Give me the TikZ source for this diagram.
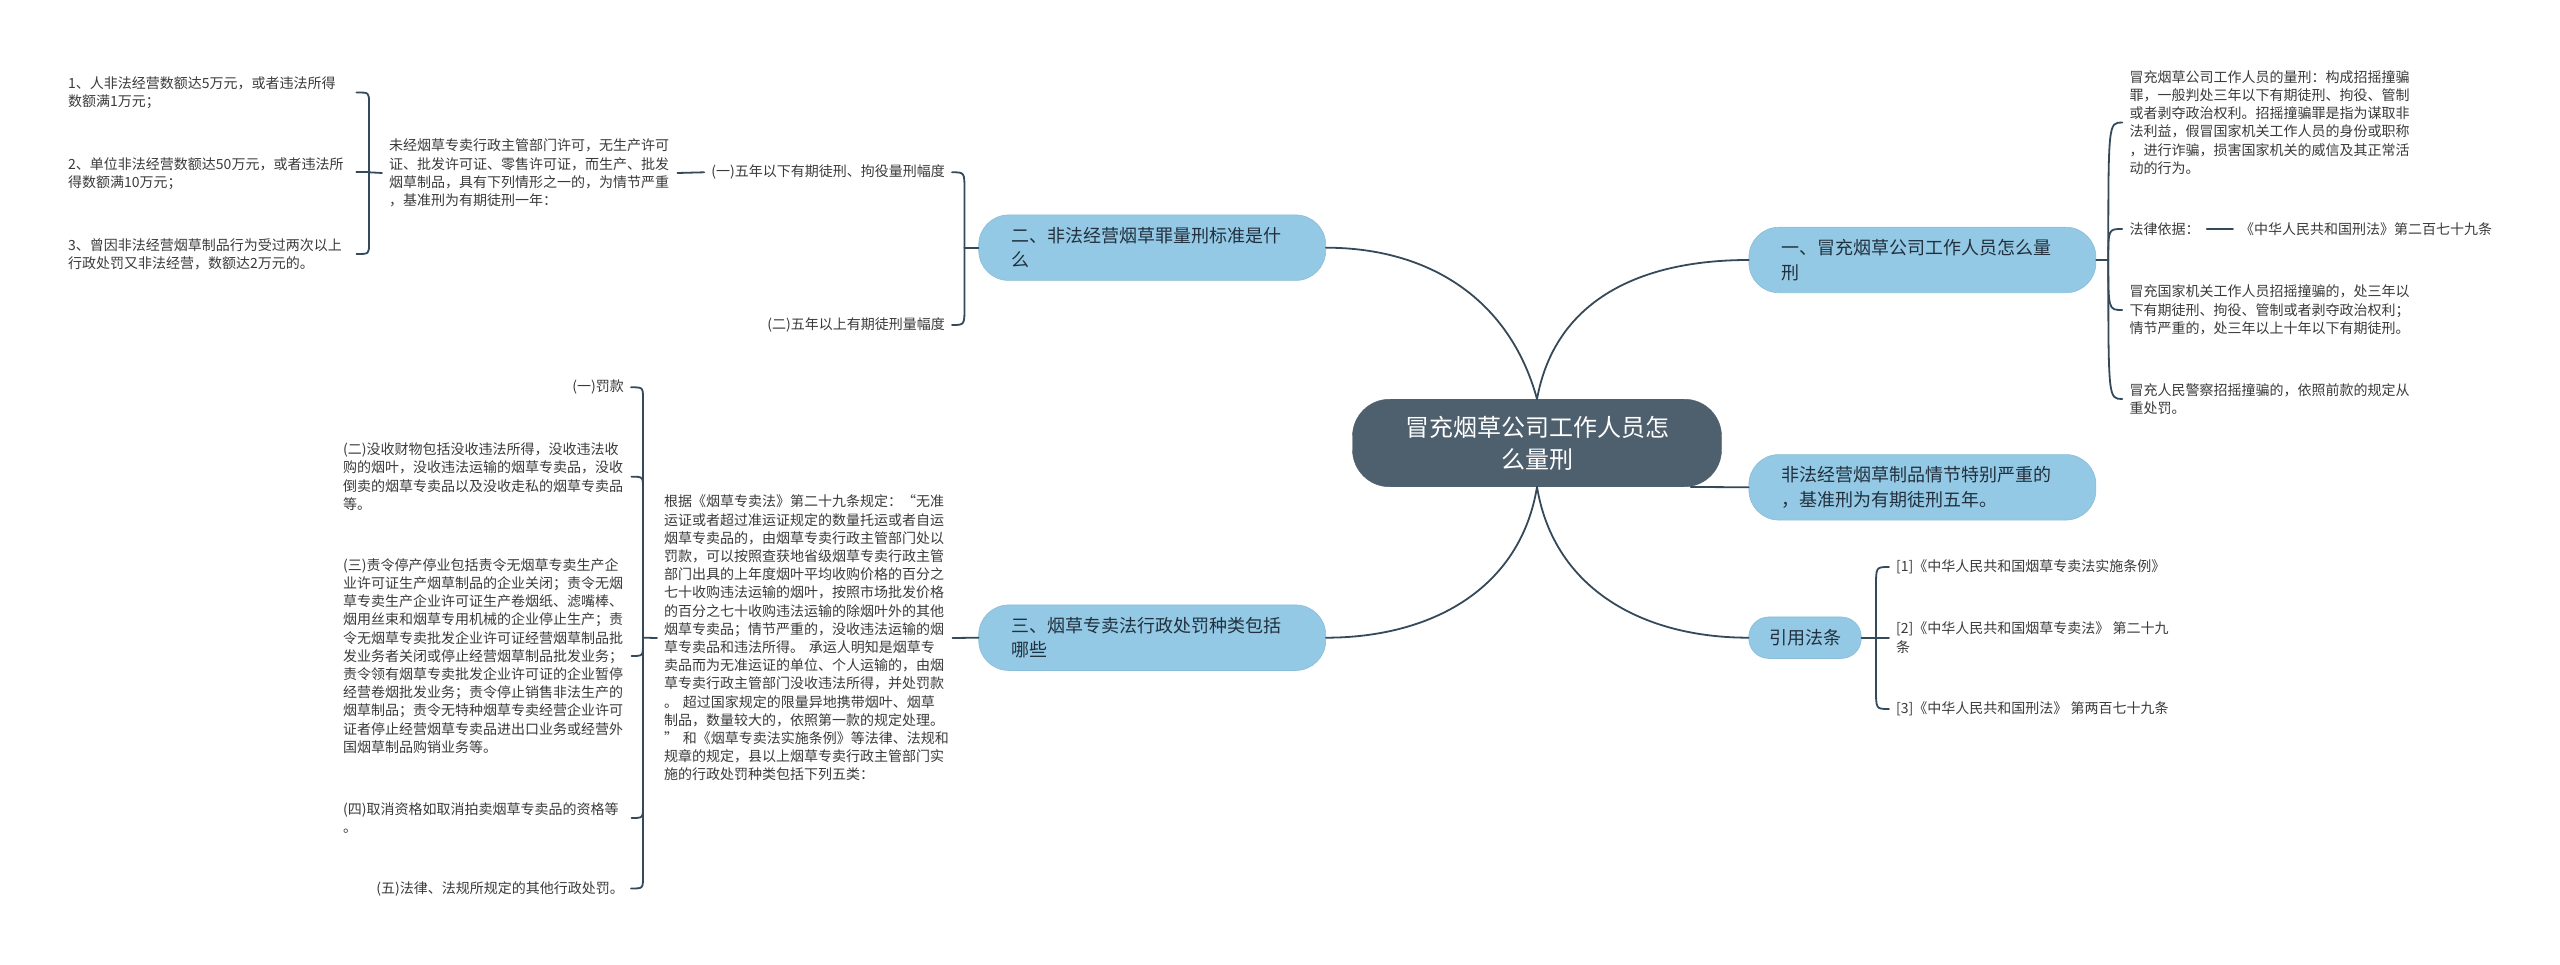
\documentclass[tikz,border=0pt]{standalone}
\usepackage{fontspec}
\usetikzlibrary{calc}
\setmainfont{Noto Sans CJK SC}
\definecolor{linec}{HTML}{34495A}
\definecolor{hubc}{HTML}{4E5F6E}
\definecolor{topicc}{HTML}{93C9E4}
\definecolor{topicb}{HTML}{8ABDD8}
\definecolor{inkc}{HTML}{3A3A3A}
\definecolor{topict}{HTML}{22303E}
\tikzset{
  txt/.style={font=\fontsize{14}{18.2}\selectfont,text=inkc,inner xsep=7pt,inner ysep=0pt,align=left},
  blk/.style={txt,text width=281pt},
  hub/.style={fill=hubc,draw=hubc,rounded corners=37pt,minimum width=369pt,minimum height=87.5pt,
    inner sep=0pt,align=center,text=white,font=\fontsize{24}{32}\selectfont},
  topic/.style={fill=topicc,draw=topicb,line width=.6pt,rounded corners=30pt,minimum height=65.5pt,inner ysep=0pt,
    inner xsep=33pt,text width=281pt,align=left,text=topict,font=\fontsize{18}{24.5}\selectfont},
  topics/.style={fill=topicc,draw=topicb,line width=.6pt,rounded corners=20pt,minimum width=112.5pt,minimum height=41.5pt,inner sep=0pt,
    align=center,text=topict,font=\fontsize{18}{24.5}\selectfont},
  conn/.style={draw=linec,line width=1.8pt,line cap=round}
}
% junction, child node, child anchor: a long gradual bend
\newcommand{\branch}[3]{\draw[conn] (#1) .. controls (#1 |- #2.#3) and (#1 |- #2.#3) .. (#2.#3);}
% junction, child node, child anchor, bend length: straight run and a short hook
\newcommand{\hook}[4]{\draw[conn] (#1) -- ($(#1 |- #2.#3)!#4!(#1)$) .. controls (#1 |- #2.#3) .. (#2.#3);}
\begin{document}
\begin{tikzpicture}[x=1pt,y=-1pt]
\useasboundingbox (0,0) rectangle (2560,965);
% main nodes
\node[hub] (hub) at (1537,443) {冒充烟草公司工作人员怎\\么量刑};
\node[topic,anchor=west] (t1) at (1748.6,260) {一、冒充烟草公司工作人员怎么量\\刑};
\node[topic,anchor=west] (t4) at (1748.6,487.3) {非法经营烟草制品情节特别严重的\\，基准刑为有期徒刑五年。};
\node[topics] (t5) at (1805,637.7) {引用法条};
\node[topic,anchor=west] (t2) at (978.4,247.7) {二、非法经营烟草罪量刑标准是什\\么};
\node[topic,anchor=west] (t3) at (978.4,637.7) {三、烟草专卖法行政处罚种类包括\\哪些};
% block of t2
\node[txt,anchor=east] (b1) at (952,172.3) {(一)五年以下有期徒刑、拘役量刑幅度};
\node[txt,anchor=east] (b2) at (952,325) {(二)五年以上有期徒刑量幅度};
\node[blk,anchor=west] (b1a) at (382,173) {未经烟草专卖行政主管部门许可，无生产许可\\证、批发许可证、零售许可证，而生产、批发\\烟草制品，具有下列情形之一的，为情节严重\\，基准刑为有期徒刑一年：};
\node[blk,anchor=west] (a1) at (61,92.5) {1、人非法经营数额达5万元，或者违法所得\\数额满1万元；};
\node[blk,anchor=west] (a2) at (61,173.5) {2、单位非法经营数额达50万元，或者违法所\\得数额满10万元；};
\node[blk,anchor=west] (a3) at (61,254) {3、曾因非法经营烟草制品行为受过两次以上\\行政处罚又非法经营，数额达2万元的。};
% block of t3
\node[blk,anchor=west] (c) at (657,638) {根据《烟草专卖法》第二十九条规定：“无准\\运证或者超过准运证规定的数量托运或者自运\\烟草专卖品的，由烟草专卖行政主管部门处以\\罚款，可以按照查获地省级烟草专卖行政主管\\部门出具的上年度烟叶平均收购价格的百分之\\七十收购违法运输的烟叶，按照市场批发价格\\的百分之七十收购违法运输的除烟叶外的其他\\烟草专卖品；情节严重的，没收违法运输的烟\\草专卖品和违法所得。 承运人明知是烟草专\\卖品而为无准运证的单位、个人运输的，由烟\\草专卖行政主管部门没收违法所得，并处罚款\\。 超过国家规定的限量异地携带烟叶、烟草\\制品，数量较大的，依照第一款的规定处理。\\” 和《烟草专卖法实施条例》等法律、法规和\\规章的规定，县以上烟草专卖行政主管部门实\\施的行政处罚种类包括下列五类：};
\node[txt,anchor=east] (c1) at (631,387.3) {(一)罚款};
\node[blk,anchor=west] (c2) at (336,476.7) {(二)没收财物包括没收违法所得，没收违法收\\购的烟叶，没收违法运输的烟草专卖品，没收\\倒卖的烟草专卖品以及没收走私的烟草专卖品\\等。};
\node[blk,anchor=west] (c3) at (336,656) {(三)责令停产停业包括责令无烟草专卖生产企\\业许可证生产烟草制品的企业关闭；责令无烟\\草专卖生产企业许可证生产卷烟纸、滤嘴棒、\\烟用丝束和烟草专用机械的企业停止生产；责\\令无烟草专卖批发企业许可证经营烟草制品批\\发业务者关闭或停止经营烟草制品批发业务；\\责令领有烟草专卖批发企业许可证的企业暂停\\经营卷烟批发业务；责令停止销售非法生产的\\烟草制品；责令无特种烟草专卖经营企业许可\\证者停止经营烟草专卖品进出口业务或经营外\\国烟草制品购销业务等。};
\node[blk,anchor=west] (c4) at (336,818) {(四)取消资格如取消拍卖烟草专卖品的资格等\\。};
\node[txt,anchor=east] (c5) at (631,888.5) {(五)法律、法规所规定的其他行政处罚。};
% block of t1
\node[blk,anchor=west] (d1) at (2122.3,122.5) {冒充烟草公司工作人员的量刑：构成招摇撞骗\\罪，一般判处三年以下有期徒刑、拘役、管制\\或者剥夺政治权利。招摇撞骗罪是指为谋取非\\法利益，假冒国家机关工作人员的身份或职称\\，进行诈骗，损害国家机关的威信及其正常活\\动的行为。};
\node[txt,anchor=west] (d2) at (2122.3,229) {法律依据：};
\node[txt,anchor=west] (d2a) at (2233,229) {《中华人民共和国刑法》第二百七十九条};
\node[blk,anchor=west] (d3) at (2122.3,310) {冒充国家机关工作人员招摇撞骗的，处三年以\\下有期徒刑、拘役、管制或者剥夺政治权利；\\情节严重的，处三年以上十年以下有期徒刑。};
\node[blk,anchor=west] (d4) at (2122.3,399) {冒充人民警察招摇撞骗的，依照前款的规定从\\重处罚。};
% block of t5
\node[txt,anchor=west] (e1) at (1889,567) {[1]《中华人民共和国烟草专卖法实施条例》};
\node[txt,anchor=west] (e2) at (1889,637.7) {[2]《中华人民共和国烟草专卖法》 第二十九\\条};
\node[txt,anchor=west] (e3) at (1889,709) {[3]《中华人民共和国刑法》 第两百七十九条};
% junctions
\coordinate (j1) at (2108.3,260);
\coordinate (j2) at (964.5,247.7);
\coordinate (ja) at (369,172.3);
\coordinate (jc) at (643,637.7);
\coordinate (je) at (1876,637.7);
% hub connectors
\draw[conn] (hub.north) .. controls (1510,300) and (1430,247.7) .. (t2.east);
\draw[conn] (hub.north) .. controls (1555,300) and (1640,260) .. (t1.west);
\draw[conn] (hub.south) .. controls (1520,590) and (1430,637.7) .. (t3.east);
\draw[conn] (hub.south) .. controls (1554,590) and (1644,637.7) .. (t5.west);
\draw[conn] ([xshift=-31pt]hub.south east) -- (t4.west);
% t2 connectors
\draw[conn] (t2.west) -- (j2);
\hook{j2}{b1}{east}{18pt}
\hook{j2}{b2}{east}{18pt}
\draw[conn] (b1.west) -- (b1a.east);
\draw[conn] (b1a.west) -- (ja);
\hook{ja}{a1}{east}{10pt}
\draw[conn] (ja) -- (ja -| a2.east);
\hook{ja}{a3}{east}{10pt}
% t3 connectors
\draw[conn] (t3.west) -- (c.east);
\draw[conn] (c.west) -- (jc);
\hook{jc}{c1}{east}{12pt}
\hook{jc}{c2}{east}{12pt}
\hook{jc}{c3}{east}{12pt}
\hook{jc}{c4}{east}{12pt}
\hook{jc}{c5}{east}{12pt}
% t1 connectors
\draw[conn] (t1.east) -- (j1);
\branch{j1}{d1}{west}
\branch{j1}{d2}{west}
\branch{j1}{d3}{west}
\branch{j1}{d4}{west}
\draw[conn] (d2.east) -- (d2a.west);
% t5 connectors
\draw[conn] (t5.east) -- (je);
\hook{je}{e1}{west}{20pt}
\draw[conn] (je) -- (e2.west);
\hook{je}{e3}{west}{20pt}
\end{tikzpicture}
\end{document}
